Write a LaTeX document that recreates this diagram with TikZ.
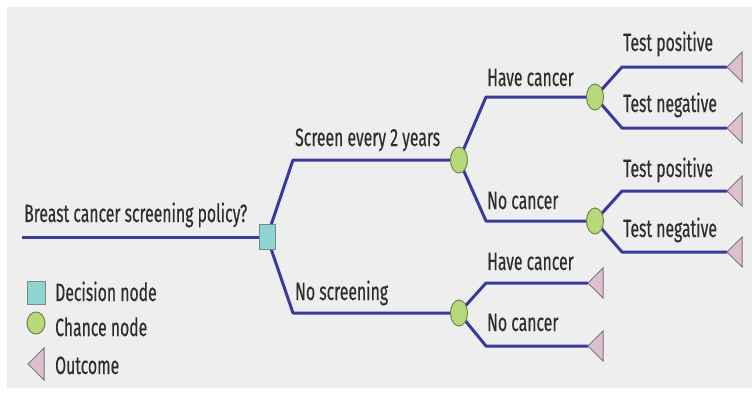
\documentclass[tikz,border=0pt]{standalone}
\usepackage{fontspec}
\setmainfont{Fira Sans}[FakeStretch=0.63,FakeBold=0.4]
\usetikzlibrary{shapes.geometric,backgrounds}
\definecolor{panel}{HTML}{EEEEEE}
\definecolor{branch}{HTML}{3A3A9C}
\definecolor{txt}{HTML}{2E2E2E}
\definecolor{decfill}{HTML}{8FD4D2}
\definecolor{decline}{HTML}{6F8C8A}
\definecolor{chfill}{HTML}{B8D87C}
\definecolor{chline}{HTML}{6E8748}
\definecolor{outfill}{HTML}{DDC0D0}
\definecolor{outline}{HTML}{7A7478}
\tikzset{
  branchline/.style={draw=branch, line width=3pt, line join=round},
  lbl/.style={anchor=base west, inner sep=0pt, text=txt, font=\fontsize{25}{27}\selectfont},
  decision/.style={draw=decline, fill=decfill, line width=1pt, rectangle,
    minimum width=16pt, minimum height=25pt, inner sep=0pt},
  chance/.style={draw=chline, fill=chfill, line width=1pt, ellipse,
    minimum width=17pt, minimum height=26pt, inner sep=0pt},
  outcome/.style={draw=outline, fill=outfill, line width=1pt, line join=miter},
}
\begin{document}
\begin{tikzpicture}[x=1pt,y=-1pt]
% outcome tips (triangles drawn at the end)
\coordinate (o1) at (727,67);
\coordinate (o2) at (727,128);
\coordinate (o3) at (727,191);
\coordinate (o4) at (727,252);
\coordinate (o5) at (588,283);
\coordinate (o6) at (588,346);
\coordinate (start) at (22,237);

% bends of the branches
\coordinate (b1) at (293,160);
\coordinate (b2) at (293,313);
\coordinate (b3) at (486,97);
\coordinate (b4) at (486,221);
\coordinate (b5) at (622,67);
\coordinate (b6) at (622,128);
\coordinate (b7) at (622,191);
\coordinate (b8) at (622,252);
\coordinate (b9) at (486,283);
\coordinate (b10) at (486,346);

% decision and chance nodes
\node[decision] (dec) at (267,237) {};
\node[chance] (c1) at (459,160) {};
\node[chance] (c2) at (459,313) {};
\node[chance] (c3) at (595,97) {};
\node[chance] (c4) at (595,221) {};

% page, panel and branch lines, all behind the nodes
\begin{scope}[on background layer]
\fill[white] (0,0) rectangle (752,400);
\fill[panel] (7,7) rectangle (752,388);
\draw[branchline] (start) -- (dec.center);
\draw[branchline] (dec.center) -- (b1) -- (c1.center);
\draw[branchline] (dec.center) -- (b2) -- (c2.center);
\draw[branchline] (c1.center) -- (b3) -- (c3.center);
\draw[branchline] (c1.center) -- (b4) -- (c4.center);
\draw[branchline] (c3.center) -- (b5) -- (o1);
\draw[branchline] (c3.center) -- (b6) -- (o2);
\draw[branchline] (c4.center) -- (b7) -- (o3);
\draw[branchline] (c4.center) -- (b8) -- (o4);
\draw[branchline] (c2.center) -- (b9) -- (o5);
\draw[branchline] (c2.center) -- (b10) -- (o6);
\end{scope}

% outcome triangles, tip on the end of each branch
\foreach \o in {o1,o2,o3,o4,o5,o6}
  \draw[outcome] (\o) -- ++(15,-15) -- ++(0,30) -- cycle;

% labels
\node[lbl] (tq) at (24,222) {Breast cancer screening policy?};
\node[lbl] (t1) at (295,146) {Screen every 2 years};
\node[lbl] (t2) at (295,300) {No screening};
\node[lbl] (t3) at (487,86) {Have cancer};
\node[lbl] (t4) at (487,209) {No cancer};
\node[lbl] (t5) at (623,51) {Test positive};
\node[lbl] (t6) at (623,112) {Test negative};
\node[lbl] (t7) at (623,177) {Test positive};
\node[lbl] (t8) at (623,237) {Test negative};
\node[lbl] (t9) at (487,270) {Have cancer};
\node[lbl] (t10) at (487,331) {No cancer};

% legend
\node[decision, minimum width=18pt, minimum height=23pt] (kd) at (36,293) {};
\node[chance, minimum width=18pt, minimum height=22pt] (kc) at (36,323) {};
\coordinate (ko) at (28,364);
\draw[outcome] (ko) -- ++(16,-16) -- ++(0,32) -- cycle;
\node[lbl] (ld) at (55,301) {Decision node};
\node[lbl] (lc) at (55,336) {Chance node};
\node[lbl] (lo) at (55,374) {Outcome};
\end{tikzpicture}
\end{document}
